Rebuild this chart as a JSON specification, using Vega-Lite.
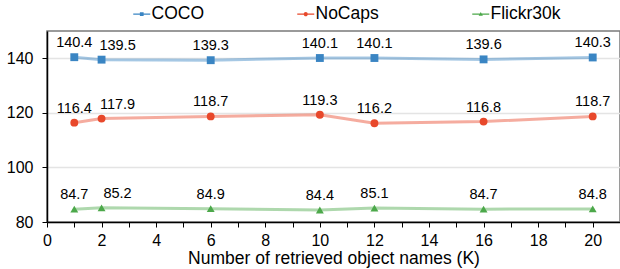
{
  "$schema": "https://vega.github.io/schema/vega-lite/v6.json",
  "width": 573,
  "height": 191,
  "autosize": "none",
  "padding": {"left": 47, "top": 31, "right": 0, "bottom": 47},
  "config": {
    "font": "Liberation Sans",
    "view": {"stroke": "#7a7a7a", "strokeWidth": 1.5},
    "axis": {"labelFontSize": 16, "labelColor": "#000000", "titleColor": "#000000", "domainColor": "#000000", "tickColor": "#000000"},
    "legend": {"orient": "none", "legendX": 86, "legendY": -26, "direction": "horizontal", "title": null, "labelFontSize": 17.5, "labelColor": "#000000", "symbolSize": 289, "columnPadding": 93, "labelOffset": 1, "symbolOpacity": 1, "symbolStrokeWidth": 0}
  },
  "data": {
    "values": [
      {"K": 1, "dataset": "COCO", "score": 140.4},
      {"K": 2, "dataset": "COCO", "score": 139.5},
      {"K": 6, "dataset": "COCO", "score": 139.3},
      {"K": 10, "dataset": "COCO", "score": 140.1},
      {"K": 12, "dataset": "COCO", "score": 140.1},
      {"K": 16, "dataset": "COCO", "score": 139.6},
      {"K": 20, "dataset": "COCO", "score": 140.3},
      {"K": 1, "dataset": "NoCaps", "score": 116.4},
      {"K": 2, "dataset": "NoCaps", "score": 117.9},
      {"K": 6, "dataset": "NoCaps", "score": 118.7},
      {"K": 10, "dataset": "NoCaps", "score": 119.3},
      {"K": 12, "dataset": "NoCaps", "score": 116.2},
      {"K": 16, "dataset": "NoCaps", "score": 116.8},
      {"K": 20, "dataset": "NoCaps", "score": 118.7},
      {"K": 1, "dataset": "Flickr30k", "score": 84.7},
      {"K": 2, "dataset": "Flickr30k", "score": 85.2},
      {"K": 6, "dataset": "Flickr30k", "score": 84.9},
      {"K": 10, "dataset": "Flickr30k", "score": 84.4},
      {"K": 12, "dataset": "Flickr30k", "score": 85.1},
      {"K": 16, "dataset": "Flickr30k", "score": 84.7},
      {"K": 20, "dataset": "Flickr30k", "score": 84.8}
    ]
  },
  "encoding": {
    "x": {
      "field": "K", "type": "quantitative",
      "scale": {"domain": [0, 21], "nice": false},
      "axis": {"values": [0, 1, 2, 3, 4, 5, 6, 7, 8, 9, 10, 11, 12, 13, 14, 15, 16, 17, 18, 19, 20, 21], "labelExpr": "datum.value % 2 == 0 && datum.value <= 20 ? datum.label : ''", "grid": false, "title": "Number of retrieved object names (K)", "titleFontSize": 17.5, "titleFontWeight": "normal", "titlePadding": 1, "tickSize": 5, "labelPadding": 5, "domainWidth": 1.5, "labelFlush": false, "labelOverlap": false}
    },
    "y": {
      "field": "score", "type": "quantitative",
      "scale": {"domain": [80, 150], "nice": false},
      "axis": {"values": [80, 100, 120, 140], "title": null, "gridColor": "#e4e4e4", "gridWidth": 1.5, "tickSize": 5, "labelPadding": 9, "domainWidth": 1.5}
    },
    "color": {
      "field": "dataset", "type": "nominal",
      "scale": {"domain": ["COCO", "NoCaps", "Flickr30k"], "range": ["#3a85c3", "#e8482b", "#4ca84a"]}
    }
  },
  "layer": [
    {
      "transform": [{"filter": "datum.K < 0"}],
      "mark": {"type": "point", "filled": true, "opacity": 1},
      "encoding": {
        "shape": {
          "field": "dataset", "type": "nominal",
          "scale": {"domain": ["COCO", "NoCaps", "Flickr30k"], "range": [
            "M-1,-0.06H1V0.06H-1Z M-0.22,-0.22H0.22V0.22H-0.22Z",
            "M-1,-0.06H1V0.06H-1Z M-0.24,0 A0.24,0.24 0 1,1 0.24,0 A0.24,0.24 0 1,1 -0.24,0 Z",
            "M-1,-0.06H1V0.06H-1Z M0,-0.26 L0.25,0.2 L-0.25,0.2 Z"
          ]}
        }
      }
    },
    {
      "mark": {"type": "line", "strokeWidth": 3, "opacity": 0.45}
    },
    {
      "transform": [{"filter": "datum.dataset == 'COCO'"}],
      "mark": {"type": "point", "filled": true, "opacity": 1, "size": 62, "shape": "square"}
    },
    {
      "transform": [{"filter": "datum.dataset == 'NoCaps'"}],
      "mark": {"type": "point", "filled": true, "opacity": 1, "size": 62, "shape": "circle"}
    },
    {
      "transform": [{"filter": "datum.dataset == 'Flickr30k'"}],
      "mark": {"type": "point", "filled": true, "opacity": 1, "size": 62, "shape": "triangle-up"}
    },
    {
      "mark": {"type": "text", "fontSize": 14.5, "baseline": "bottom", "dy": -7, "dx": {"expr": "datum.K == 2 ? 16 : 0"}, "color": "#000000"},
      "encoding": {"text": {"field": "score", "type": "quantitative", "format": ".1f"}, "color": {"value": "#000000"}}
    }
  ]
}
